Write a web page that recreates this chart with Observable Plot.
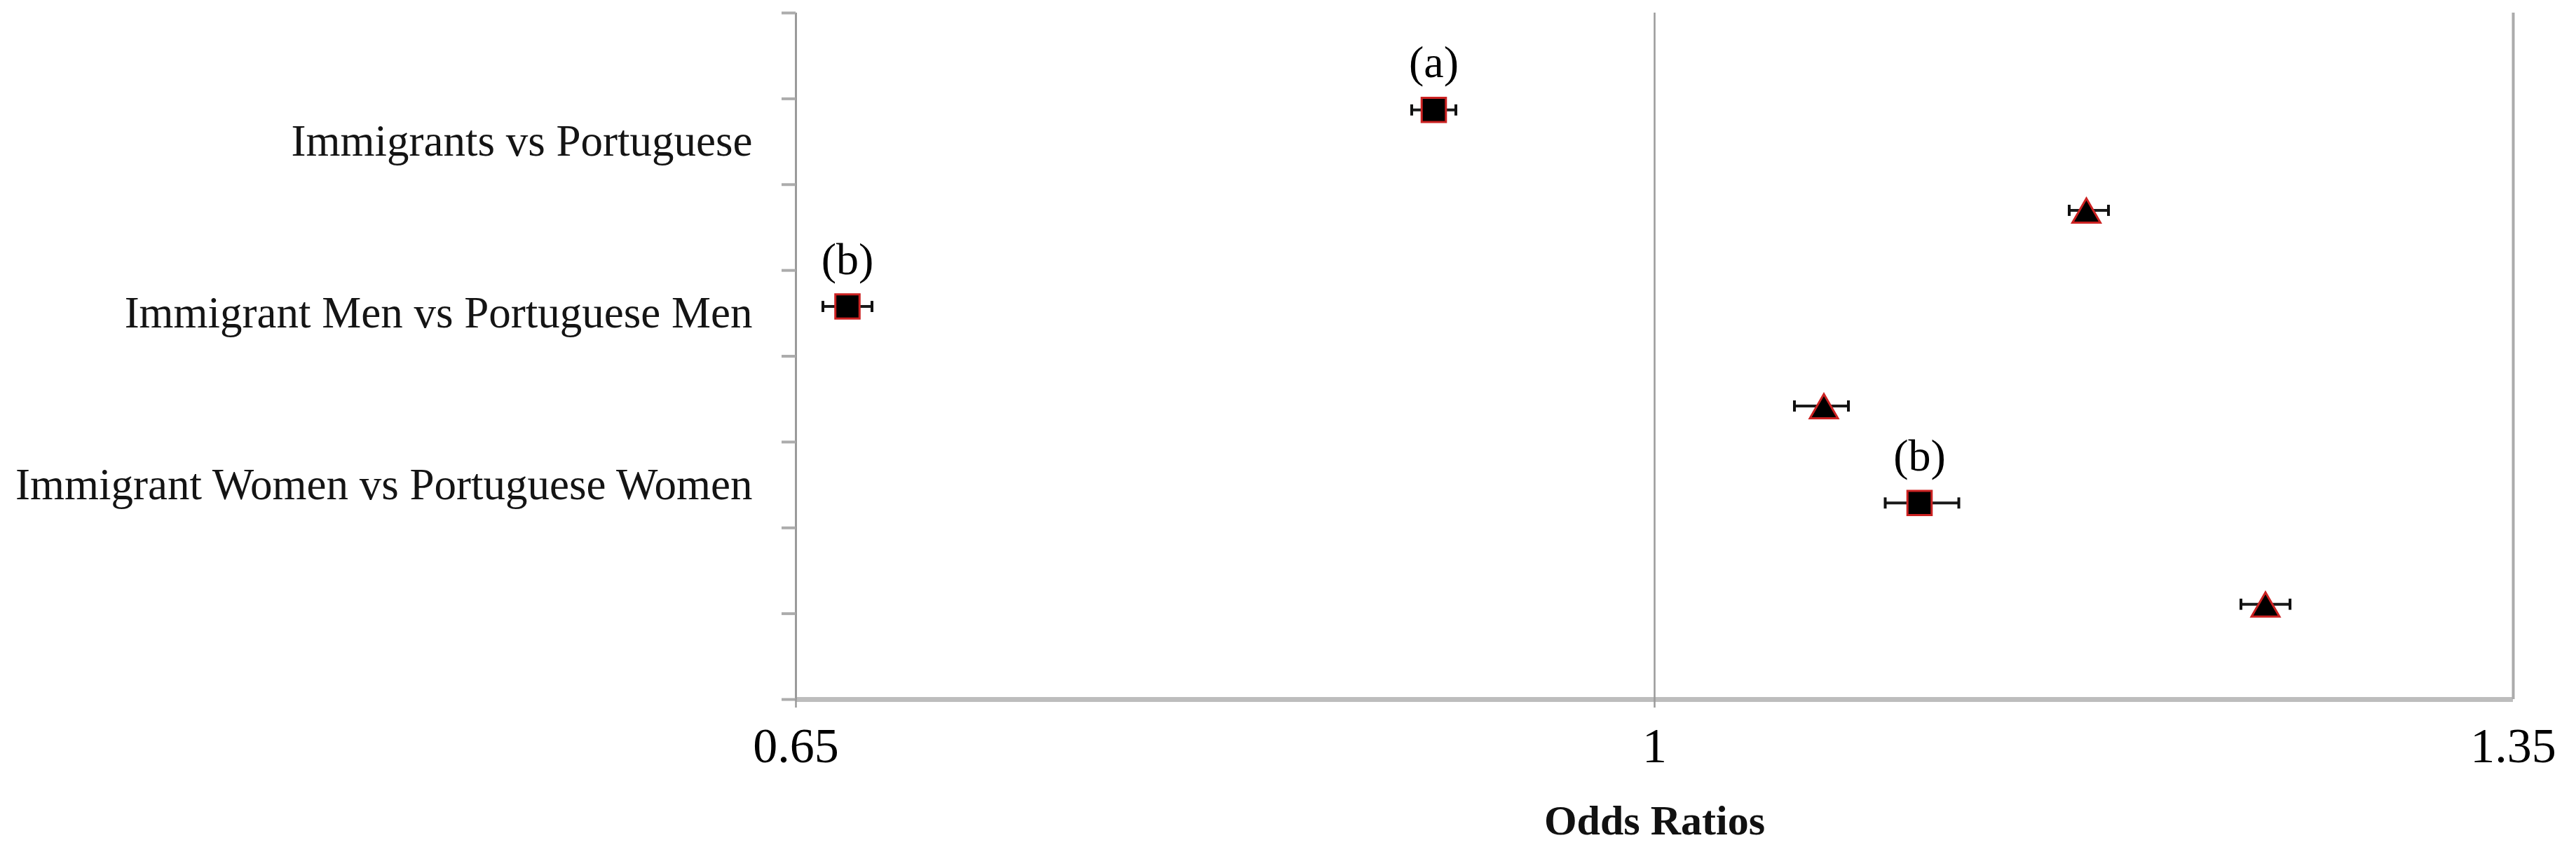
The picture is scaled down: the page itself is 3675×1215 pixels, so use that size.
<!DOCTYPE html>
<html>
<head>
<meta charset="utf-8">
<script src="https://cdn.jsdelivr.net/npm/d3@7"></script>
<script src="https://cdn.jsdelivr.net/npm/@observablehq/plot@0.6"></script>
<style>
  html, body { margin: 0; padding: 0; background: #fff; }
  #chart svg { display: block; }
</style>
</head>
<body>
<div id="chart"></div>
<script>
// ---- data ----
const categories = ["Immigrants vs Portuguese", "Immigrant Men vs Portuguese Men", "Immigrant Women vs Portuguese Women"];
const categoryY = [1.5, 3.5, 5.5];
const rowY = [1.13, 2.30, 3.42, 4.58, 5.71, 6.89];
const oddsRatio = [0.910, 1.176, 0.671, 1.069, 1.108, 1.249];
const ciLow =     [0.901, 1.169, 0.661, 1.057, 1.094, 1.239];
const ciHigh =    [0.919, 1.185, 0.681, 1.079, 1.124, 1.259];
const markerShape = ["square", "triangle", "square", "triangle", "square", "triangle"];
const note = ["(a)", "", "(b)", "", "(b)", ""];
const xTicks = [0.65, 1, 1.35];
const yTicks = [0, 1, 2, 3, 4, 5, 6, 7, 8];

const rows = rowY.map((y, i) => ({y, or: oddsRatio[i], lo: ciLow[i], hi: ciHigh[i], shape: markerShape[i], note: note[i]}));
const squares = rows.filter(d => d.shape === "square");
const triangles = rows.filter(d => d.shape === "triangle");
const capHalf = 0.065;
const yMax = yTicks[yTicks.length - 1];

const chart = Plot.plot({
  width: 3675,
  height: 1215,
  marginLeft: 1135,
  marginRight: 90,
  marginTop: 18,
  marginBottom: 218,
  x: {domain: [xTicks[0], xTicks[xTicks.length - 1]], label: null},
  y: {domain: [yMax, yTicks[0]], label: null},
  style: {fontFamily: "'Liberation Serif', 'DejaVu Serif', serif", background: "#fff", color: "#111"},
  marks: [
    // bottom axis line
    Plot.ruleY([yMax], {x1: xTicks[0], x2: xTicks[2], stroke: "#bdbdbd", strokeWidth: 7}),
    // right border
    Plot.ruleX([xTicks[2]], {stroke: "#ababab", strokeWidth: 4}),
    // reference line at 1
    Plot.ruleX([xTicks[1]], {stroke: "#9a9a9a", strokeWidth: 2.5}),
    // left axis line
    Plot.ruleX([xTicks[0]], {stroke: "#9a9a9a", strokeWidth: 3}),
    // y tick marks
    Plot.axisY({ticks: yTicks, tickSize: 20, tickFormat: () => "", stroke: "#acacac", strokeWidth: 4, label: null}),
    // y category labels
    Plot.axisY({ticks: categoryY, tickSize: 0, tickPadding: 62, fontSize: 63, fill: "#141414",
      tickFormat: d => categories[categoryY.indexOf(d)], label: null}),
    // x tick marks extending below
    Plot.axisX({ticks: [xTicks[0], xTicks[1]], tickSize: 12, tickFormat: () => "", stroke: "#9a9a9a", strokeWidth: 2.5, label: null}),
    // x tick labels
    Plot.axisX({ticks: xTicks, tickSize: 0, tickPadding: 40, fontSize: 70, fill: "#000", tickFormat: d => String(d), label: null}),
    // x axis title
    Plot.text(["Odds Ratios"], {frameAnchor: "bottom", dy: 173, fontSize: 60, fontWeight: "bold", fill: "#111", lineAnchor: "middle"}),
    // error bars
    Plot.link(rows, {x1: "lo", x2: "hi", y1: "y", y2: "y", stroke: "#1a1a1a", strokeWidth: 4}),
    Plot.link(rows, {x1: "lo", x2: "lo", y1: d => d.y - capHalf, y2: d => d.y + capHalf, stroke: "#111", strokeWidth: 4}),
    Plot.link(rows, {x1: "hi", x2: "hi", y1: d => d.y - capHalf, y2: d => d.y + capHalf, stroke: "#111", strokeWidth: 4}),
    // markers
    Plot.dot(squares, {x: "or", y: "y", symbol: "square", r: 19.5, fill: "#000", stroke: "#cc2222", strokeWidth: 3}),
    Plot.dot(triangles, {x: "or", y: "y", symbol: "triangle", r: 14.8, dy: 6, fill: "#000", stroke: "#cc2222", strokeWidth: 3}),
    // annotations
    Plot.text(rows.filter(d => d.note), {x: "or", y: "y", text: "note", dy: -67, fontSize: 64, fill: "#000", lineAnchor: "middle"})
  ]
});
document.getElementById("chart").appendChild(chart);
</script>
</body>
</html>
